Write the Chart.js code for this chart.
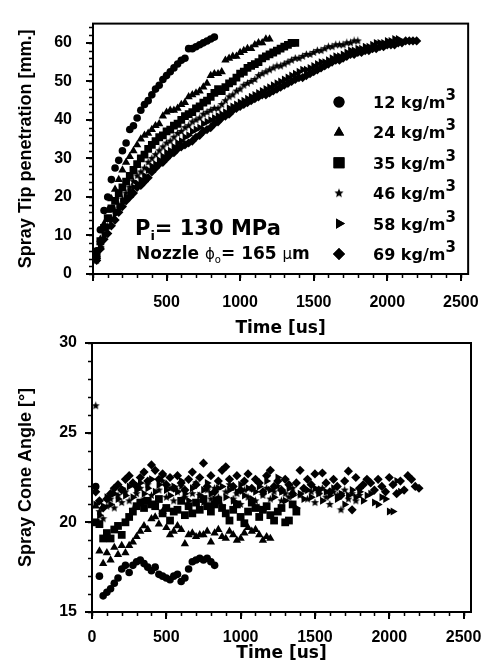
<!DOCTYPE html>
<html><head><meta charset="utf-8">
<script src="https://cdn.jsdelivr.net/npm/chart.js@4.4.1/dist/chart.umd.min.js"></script>
<style>
html,body{margin:0;padding:0;background:#fff;}
#wrap{position:relative;width:491px;height:668px;}
canvas{position:absolute;left:0;top:0;}
</style></head><body>
<div id="wrap"><canvas id="c1" width="491" height="668"></canvas><canvas id="c2" width="491" height="668"></canvas></div>
<script>
// ---------------- DATA ----------------
const timeUs = [25,50,75,100,125,150,175,200,225,250,275,300,325,350,375,400,425,450,475,500,525,550,575,600,625,650,675,700,725,750,775,800,825,850,875,900,925,950,975,1000,1025,1050,1075,1100,1125,1150,1175,1200,1225,1250,1275,1300,1325,1350,1375,1400,1425,1450,1475,1500,1525,1550,1575,1600,1625,1650,1675,1700,1725,1750,1775,1800,1825,1850,1875,1900,1925,1950,1975,2000,2025,2050,2075,2100,2125,2150,2175,2200];
const densityLabels = ['12 kg/m','24 kg/m','35 kg/m','46 kg/m','58 kg/m','69 kg/m'];
const densityUnitSup = '3';

// Spray tip penetration [mm]
const pen12 = [6,11.5,16.5,20,24.5,27.5,29.5,32,34,37.5,38.5,40.5,42.5,44,45,46.5,48,49,50.5,51.5,52.5,53.5,54.5,55.5,56,58.5,58.5,59,59.5,60,60.5,61,61.5];
const pen24 = [5,9,13,16.5,19.5,22,24.5,27,29,30.5,32,33.5,35,36,36.5,37.5,38.5,39,41,42,42.5,42.5,43,44,44.5,46,46.5,47,47.5,48.5,49.5,51.5,52,52,52.5,55.5,56,56.5,56.5,57.5,58,58.5,58.5,59.5,60,60,61,61];
const pen35 = [5,8.5,12,14.5,17,19,21,22.5,24,25.5,27,28.5,30,31,32.5,33.5,34.5,35.5,36,37,37.5,38.5,39,40,41,41.5,42,43,43.5,44.5,45,46,47,48,47.5,48.5,49.5,50,51,52,52.5,53.5,54,54.5,55,56,56.5,57,57.5,58,58.5,59,59.5,60,60];
const pen46 = [3.5,7.5,10.5,12.5,14.5,16.5,18,19.5,21,22.5,24,25.5,26.5,27.5,29,30,31,32,33,34,34.5,35.5,36.5,37,38,38.5,39.5,40,40.5,41.5,42,42.5,43,43,44,45,46,46.5,47.5,48,49,49.5,50,50.5,51.5,52,52.5,53,53.5,54,54,54.5,55,55.5,56,56,56.5,57,57,57.5,58,58,58.5,59,59,59.5,59.5,59.5,60,60,60.5,60.5];
const pen58 = [4,7,10,12,14,15.5,17,18.5,20,21.5,22.5,23.5,24.5,25.5,27,28,28.5,29.5,30.5,31.5,32,33,34,34.5,35.5,36,37,37.5,38,39,39.5,40,40.5,41,41.5,42,43,43.5,44,44.5,45,45.5,46,46.5,47,47.5,48,48.5,49,49.5,50,50.5,51,51.5,52,52.5,53,53,53.5,54,54.5,55,55,55.5,56,56.5,56.5,57,57.5,58,58,58.5,58.5,59,59,59.5,60,60,60,60.5,60.5,61,61];
const pen69 = [3.5,6.5,9,10.5,12.5,14,16,17.5,19,20,21,22.5,23,24,25,26.5,27.5,28.5,29,30,31,31.5,32.5,33,33.5,34,34.5,35.5,36,37,37.5,38,39,39.5,40.5,41,41.5,42.5,43,43.5,44,44.5,45,45.5,46,46.5,46.5,47,47.5,48,48.5,49,49.5,50,50.5,51,51,51.5,52,52.5,53,53.5,54,54.5,55,55.5,55.5,56,56.5,57,57,57.5,57.5,58,58,58.5,58.5,59,59,59.5,59.5,59.5,60,60,60.5,60.5,60.5,60.5];

// Spray cone angle [deg]
const cone12 = [22.0,17.0,15.9,16.1,16.3,16.6,16.9,17.4,17.6,17.2,17.6,17.8,17.9,17.7,17.5,17.3,17.5,17.1,17.0,16.9,16.8,17.0,17.1,16.7,16.9,17.4,17.8,17.9,18.0,17.9,18.0,17.8,17.6];
const cone24 = [20.9,18.4,17.7,18.3,17.9,18.6,18.2,18.7,18.3,18.7,18.9,19.2,19.5,19.8,19.6,20.2,20.3,19.9,20.6,19.7,19.3,19.5,19.8,19.6,18.8,19.3,19.4,19.2,19.3,19.3,19.5,18.9,19.4,19.6,19.2,19.1,19.5,19.3,19.0,19.1,19.4,19.7,19.5,19.6,19.3,19.0,19.2,19.1];
const cone35 = [20.0,19.9,19.1,19.4,19.1,19.6,19.8,19.3,20.0,20.3,20.6,20.9,21.1,20.8,21.2,21.0,20.9,21.3,20.5,20.8,20.1,20.6,20.7,21.2,20.4,20.9,20.5,21.1,20.7,21.3,20.9,20.6,21.0,21.2,20.8,20.5,20.1,20.7,21.0,20.3,19.95,20.6,21.1,20.8,20.3,20.7,20.9,20.4,20.1,20.6,20.8,20.0,20.1,21.0,20.6];
const cone46 = [26.5,20.6,20.2,20.9,21.3,20.8,21.5,21.1,21.7,21.2,20.7,21.6,21.9,21.3,22.1,21.5,21.0,21.8,22.3,21.4,21.9,21.2,21.7,22.0,21.4,20.9,21.6,22.2,21.5,21.1,21.8,21.3,21.9,21.4,20.9,21.7,22.1,21.3,21.6,21.0,21.8,21.4,21.9,21.2,20.8,21.5,21.9,21.3,21.7,22.0,21.2,21.6,21.4,21.9,20.7,21.5,21.8,21.3,21.7,21.1,21.6,21.9,21.4,21.0,21.7,21.5,20.7,21.8,21.3,21.6,21.2,21.5];
const cone58 = [21.0,20.4,20.9,21.4,21.0,21.6,21.3,21.9,21.5,22.0,21.4,21.8,22.2,21.6,21.9,22.4,21.7,22.1,22.6,21.8,21.5,22.0,21.7,22.3,21.6,21.2,21.9,22.1,21.5,21.8,22.2,21.6,21.3,21.9,22.0,21.4,21.8,21.2,21.7,22.1,21.5,21.9,21.3,21.7,22.0,21.6,22.3,21.8,21.4,22.5,21.7,21.2,21.9,21.5,20.8,21.6,21.3,21.8,21.4,21.9,21.6,21.2,21.7,21.5,21.9,21.3,21.6,21.0,21.5,21.8,21.4,21.7,21.2,21.5,21.6,21.1,21.0,21.4,21.3,20.6,20.6,22.3,21.7];
const cone69 = [21.7,21.2,20.8,21.3,21.6,21.9,22.1,21.8,22.4,22.6,22.2,22.0,22.5,22.8,22.3,23.2,22.9,22.4,22.7,22.1,22.5,21.9,22.6,22.2,21.8,22.4,22.8,22.1,22.5,23.3,22.0,22.6,21.7,22.3,22.9,23.1,22.4,22.0,22.6,21.8,22.3,22.7,21.9,22.4,22.2,21.7,22.6,22.9,22.0,22.3,21.8,22.4,22.1,21.6,22.2,22.9,21.9,22.4,22.1,22.7,21.8,22.75,22.2,21.7,22.4,22.0,21.5,22.3,22.85,20.7,22.5,21.9,22.1,22.4,22.2,21.8,22.4,22.0,21.7,22.5,22.1,21.6,22.3,21.8,22.6,22.4,22.0,21.9];

const penSeries = [pen12, pen24, pen35, pen46, pen58, pen69];
const coneSeries = [cone12, cone24, cone35, cone46, cone58, cone69];

// axis ticks
const xMax = 2550;
const xTickValues = [0, 500, 1000, 1500, 2000, 2500];
const xMinorStep = 100;
const penMin = 0, penMax = 65, penTickValues = [0, 10, 20, 30, 40, 50, 60], penMinorStep = 2;
const coneMin = 15, coneMax = 30, coneTickValues = [15, 20, 25, 30], coneMinorStep = 1;

// ---------------- STYLE ----------------
const BLACK = '#000';
const TICK_FONT = {family: 'Liberation Sans', size: 16, weight: 'bold'};
const DJ = '"DejaVu Sans"';

function makeStar(size, r) {
  const c = document.createElement('canvas');
  c.width = size; c.height = size;
  const g = c.getContext('2d');
  g.fillStyle = BLACK;
  g.beginPath();
  for (let i = 0; i < 10; i++) {
    const rr = i % 2 === 0 ? r : r * 0.45;
    const a = -Math.PI / 2 + i * Math.PI / 5;
    const px = size / 2 + rr * Math.cos(a), py = size / 2 + rr * Math.sin(a);
    if (i === 0) g.moveTo(px, py); else g.lineTo(px, py);
  }
  g.closePath(); g.fill();
  return c;
}
const starData = makeStar(9, 4.3);
const starLegend = makeStar(10, 4.8);

const markerStyles = [
  {pointStyle: 'circle', radius: 3.8, rotation: 0, legendStyle: 'circle', legendRadius: 5.5},
  {pointStyle: 'triangle', radius: 4.8, rotation: 0, legendStyle: 'triangle', legendRadius: 6},
  {pointStyle: 'rect', radius: 5.5, rotation: 0, legendStyle: 'rect', legendRadius: 7.6},
  {pointStyle: starData, radius: 4, rotation: 0, legendStyle: starLegend, legendRadius: 5},
  {pointStyle: 'triangle', radius: 4.6, rotation: 90, legendStyle: 'triangle', legendRadius: 6, legendRotation: 90},
  {pointStyle: 'rectRot', radius: 4.6, rotation: 0, legendStyle: 'rectRot', legendRadius: 6},
];

function makeDatasets(seriesList) {
  return seriesList.map((vals, k) => ({
    label: densityLabels[k] + densityUnitSup,
    data: vals.map((v, i) => ({x: timeUs[i], y: v})),
    pointStyle: markerStyles[k].pointStyle,
    pointRadius: markerStyles[k].radius,
    pointRotation: markerStyles[k].rotation,
    pointBackgroundColor: BLACK,
    pointBorderColor: BLACK,
    pointBorderWidth: 0,
    showLine: false,
  }));
}

// frame + minor ticks
function frameAndMinor(yMinorStep) {
  return {
    id: 'frameMinor',
    afterDraw(chart) {
      const {ctx, chartArea: a} = chart;
      const xs = chart.scales.x, ys = chart.scales.y;
      ctx.save();
      ctx.strokeStyle = BLACK;
      ctx.lineWidth = 2;
      ctx.strokeRect(a.left, a.top, a.right - a.left, a.bottom - a.top);
      ctx.lineWidth = 1.5;
      ctx.beginPath();
      for (let v = xs.min; v <= xs.max + 1e-9; v += xMinorStep) {
        const px = Math.round(xs.getPixelForValue(v)) + 0.5;
        ctx.moveTo(px, a.bottom); ctx.lineTo(px, a.bottom + 4);
      }
      for (let v = ys.min; v <= ys.max + 1e-9; v += yMinorStep) {
        const py = Math.round(ys.getPixelForValue(v)) + 0.5;
        ctx.moveTo(a.left, py); ctx.lineTo(a.left - 4, py);
      }
      ctx.stroke();
      ctx.restore();
    }
  };
}

function drawRuns(ctx, x, y, runs) {
  for (const r of runs) {
    ctx.font = r.font;
    ctx.fillText(r.text, x, y + (r.dy || 0));
    x += ctx.measureText(r.text).width;
  }
}

const legendPlugin = {
  id: 'insideLegend',
  afterDraw(chart) {
    const ctx = chart.ctx;
    ctx.save();
    ctx.fillStyle = BLACK; ctx.strokeStyle = BLACK;
    ctx.textBaseline = 'alphabetic';
    densityLabels.forEach((lab, k) => {
      const cy = 102 + k * 30.4;
      const m = markerStyles[k];
      Chart.helpers.drawPoint(ctx, {pointStyle: m.legendStyle, radius: m.legendRadius, rotation: m.legendRotation || 0, borderWidth: 0}, 339, cy);
      ctx.fill();
      drawRuns(ctx, 373, cy + 6, [
        {text: lab, font: 'bold 16px ' + DJ},
        {text: densityUnitSup, font: 'bold 15px ' + DJ, dy: -8},
      ]);
    });
    // annotation
    drawRuns(ctx, 135, 235, [
      {text: 'P', font: 'bold 21px ' + DJ},
      {text: 'i', font: 'bold 13px ' + DJ, dy: 5},
      {text: '= 130 MPa', font: 'bold 21px ' + DJ},
    ]);
    drawRuns(ctx, 136, 259, [
      {text: 'Nozzle ', font: 'bold 17px ' + DJ},
      {text: 'ϕ', font: '15px ' + DJ},
      {text: 'o', font: '10px ' + DJ, dy: 4},
      {text: '= 165 ', font: 'bold 17px ' + DJ},
      {text: 'μ', font: '15px ' + DJ},
      {text: 'm', font: 'bold 17px ' + DJ},
    ]);
    ctx.restore();
  }
};

function axisCommon() {
  return {
    grid: {display: true, drawOnChartArea: false, drawTicks: true, tickLength: 7, color: BLACK, lineWidth: 2},
    border: {display: true, color: BLACK, width: 2},
  };
}

function makeChart(canvasId, datasets, cfg) {
  return new Chart(document.getElementById(canvasId), {
    type: 'scatter',
    data: {datasets},
    options: {
      responsive: false,
      animation: false,
      events: [],
      layout: {padding: cfg.padding},
      plugins: {legend: {display: false}, tooltip: {enabled: false}},
      scales: {
        x: Object.assign(axisCommon(), {
          type: 'linear', min: 0, max: xMax,
          afterBuildTicks(s) { s.ticks = xTickValues.map(v => ({value: v})); },
          afterFit(s) { s.height = cfg.xHeight; },
          ticks: {color: BLACK, font: TICK_FONT, padding: cfg.xTickPad, maxRotation: 0, autoSkip: false,
                  callback: (v) => (cfg.hideZero && v === 0) ? '' : String(v)},
          title: {display: true, text: 'Time [us]', color: BLACK, font: {family: 'DejaVu Sans', size: 17, weight: 'bold'}, padding: {top: 0, bottom: cfg.xTitlePad}},
        }),
        y: Object.assign(axisCommon(), {
          type: 'linear', min: cfg.yMin, max: cfg.yMax,
          afterBuildTicks(s) { s.ticks = cfg.yTicks.map(v => ({value: v})); },
          afterFit(s) { s.width = cfg.yWidth; },
          ticks: {color: BLACK, font: TICK_FONT, padding: cfg.yTickPad, autoSkip: false},
          title: {display: true, text: cfg.yTitle, color: BLACK, font: {family: 'Liberation Sans', size: 18, weight: 'bold'}, padding: {top: cfg.yTitlePad, bottom: 0}},
        }),
      },
    },
    plugins: cfg.plugins,
  });
}

makeChart('c1', makeDatasets(penSeries), {
  padding: {left: 0, right: 21, top: 10, bottom: 324},
  xHeight: 70, yWidth: 93, xTickPad: 12, xTitlePad: 5, yTickPad: 14, yTitlePad: 15,
  yMin: penMin, yMax: penMax, yTicks: penTickValues, hideZero: true,
  yTitle: 'Spray Tip penetration [mm.]',
  plugins: [frameAndMinor(penMinorStep), legendPlugin],
});

makeChart('c2', makeDatasets(coneSeries), {
  padding: {left: 0, right: 20, top: 343, bottom: 0},
  xHeight: 56, yWidth: 92, xTickPad: 9, xTitlePad: 4, yTickPad: 8, yTitlePad: 15,
  yMin: coneMin, yMax: coneMax, yTicks: coneTickValues, hideZero: false,
  yTitle: 'Spray Cone Angle [°]',
  plugins: [frameAndMinor(coneMinorStep)],
});
</script>
</body></html>
